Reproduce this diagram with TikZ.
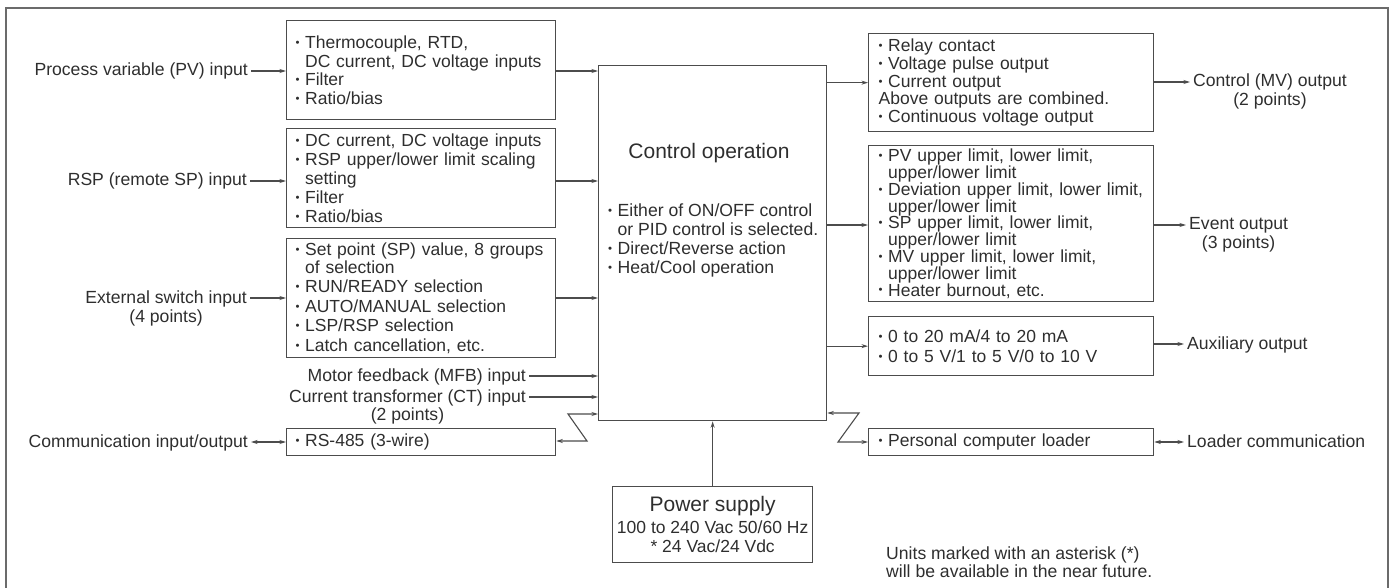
\documentclass[tikz,border=0pt]{standalone}
\usepackage{fontspec}
\setmainfont{Liberation Sans}
\usepackage{graphicx}
\usetikzlibrary{arrows.meta,positioning}
\setlength\parindent{0pt}

% small list bullet and the matching hanging indent
\newcommand\itm{\makebox[9.5pt][l]{\raisebox{0.12em}{\scalebox{0.65}{\textbullet}}}}
\newcommand\ind{\hspace*{9.5pt}}

\begin{document}
\begin{tikzpicture}[x=1pt, y=-1pt,
        every node/.style={text=black!82},
        box/.style={draw=black!70, line width=1.3pt, anchor=north west, align=left, inner xsep=9pt, inner ysep=0pt, font=\fontsize{17.5}{18.7}\selectfont},
        lbl/.style={font=\fontsize{17.6}{18.7}\selectfont, inner xsep=3pt, inner ysep=1.5pt, text height=13pt, text depth=3pt},
        ttl/.style={font=\fontsize{21}{22}\selectfont, inner sep=0pt},
        frame/.style={draw=black!58, line width=1.8pt},
        arr/.style={-{Stealth[length=6.5pt,width=4pt]}, line width=1.1pt, draw=black!70},
        darr/.style={{Stealth[length=6.5pt,width=4pt]}-{Stealth[length=6.5pt,width=4pt]}, line width=1.1pt, draw=black!70}
    ]
    \useasboundingbox (0,0) rectangle (1393,588);
    \draw[frame] (6,592) -- (6,8) -- (1388,8) -- (1388,592);

    % input side
    \node[box, text width=251pt, minimum height=99pt] (pv) at (286,20)
        {\itm Thermocouple, RTD,\\ \ind DC current, DC voltage inputs\\ \itm Filter\\ \itm Ratio/bias};
    \node[box, text width=251pt, minimum height=99pt, font=\fontsize{17.5}{19}\selectfont] (rsp) at (286,128)
        {\itm DC current, DC voltage inputs\\ \itm RSP upper/lower limit scaling\\ \ind setting\\ \itm Filter\\ \itm Ratio/bias};
    \node[box, text width=251pt, minimum height=119pt, font=\fontsize{17.5}{19.4}\selectfont] (ext) at (286,238)
        {\itm Set point (SP) value, 8 groups\\[-1.4pt] \ind of selection\\ \itm RUN/READY selection\\ \itm AUTO/MANUAL selection\\ \itm LSP/RSP selection\\ \itm Latch cancellation, etc.};
    \node[box, text width=251pt, minimum height=27pt] (rs) at (286,428) {\itm RS-485 (3-wire)};

    \node[lbl, anchor=east] (pvin) at (251,71) {Process variable (PV) input};
    \node[lbl, anchor=east] (rspin) at (250,181) {RSP (remote SP) input};
    \node[lbl, anchor=east] (extin) at (250,298) {External switch input};
    \node[lbl, below=0pt of extin] (extpts) {(4 points)};
    \node[lbl, anchor=east] (mfbin) at (529,376) {Motor feedback (MFB) input};
    \node[lbl, anchor=east] (ctin) at (529,397) {Current transformer (CT) input};
    \node[lbl, below=-1pt of ctin] (ctpts) {(2 points)};
    \node[lbl, anchor=east] (comin) at (251,442) {Communication input/output};

    % control block
    \node[box, minimum width=228pt, minimum height=355pt, inner sep=0pt] (ctrl) at (598,65) {};
    \node[ttl] (ctitle) at (709,153) {Control operation};
    \node[anchor=north west, align=left, inner sep=0pt, font=\fontsize{17.6}{19}\selectfont] (clist) at (608,204)
        {\itm Either of ON/OFF control\\ \ind or PID control is selected.\\ \itm Direct/Reverse action\\ \itm Heat/Cool operation};

    \node[box, align=center, inner xsep=2pt, minimum width=200pt, minimum height=76pt] (ps) at (612,486)
        {{\fontsize{21}{22}\selectfont Power supply}\\[3pt] 100 to 240 Vac 50/60 Hz\\ * 24 Vac/24 Vdc};

    % output side
    \node[box, text width=265pt, inner xsep=10pt, minimum height=98pt, font=\fontsize{17.5}{17.8}\selectfont] (mv) at (868,33)
        {\itm Relay contact\\ \itm Voltage pulse output\\ \itm Current output\\ Above outputs are combined.\\ \itm Continuous voltage output};
    \node[box, text width=265pt, inner xsep=10pt, minimum height=156pt, font=\fontsize{17.5}{16.8}\selectfont] (ev) at (868,145)
        {\itm PV upper limit, lower limit,\\ \ind upper/lower limit\\ \itm Deviation upper limit, lower limit,\\ \ind upper/lower limit\\ \itm SP upper limit, lower limit,\\ \ind upper/lower limit\\ \itm MV upper limit, lower limit,\\ \ind upper/lower limit\\ \itm Heater burnout, etc.};
    \node[box, text width=265pt, inner xsep=10pt, minimum height=59pt, font=\fontsize{17.5}{19.4}\selectfont] (aux) at (868,316)
        {\itm 0 to 20 mA/4 to 20 mA\\ \itm 0 to 5 V/1 to 5 V/0 to 10 V};
    \node[box, text width=265pt, inner xsep=10pt, minimum height=27pt] (pcl) at (868,428) {\itm Personal computer loader};

    \node[lbl, anchor=west] (mvout) at (1190,82) {Control (MV) output};
    \node[lbl, below=-1pt of mvout] (mvpts) {(2 points)};
    \node[lbl, anchor=west] (evout) at (1186,225) {Event output};
    \node[lbl, below=-1pt of evout] (evpts) {(3 points)};
    \node[lbl, anchor=west] (auxout) at (1184,344) {Auxiliary output};
    \node[lbl, anchor=west] (ldout) at (1184,442) {Loader communication};

    \node[anchor=north west, align=left, inner sep=0pt, font=\fontsize{17.6}{17.5}\selectfont] (fnote) at (886,547)
        {Units marked with an asterisk (*)\\ will be available in the near future.};

    % bends of the two communication lines
    \coordinate (zl1) at (568,414);
    \coordinate (zl2) at (587,441);
    \coordinate (zr1) at (859,413);
    \coordinate (zr2) at (838,442);

    \draw[arr] (pvin.east) -- (pv.west |- pvin);
    \draw[arr] (rspin.east) -- (rsp.west |- rspin);
    \draw[arr] (extin.east) -- (ext.west |- extin);
    \draw[darr] (comin.east) -- (rs.west |- comin);
    \draw[arr] (pv.east |- pvin) -- (ctrl.west |- pvin);
    \draw[arr] (rsp.east |- rspin) -- (ctrl.west |- rspin);
    \draw[arr] (ext.east |- extin) -- (ctrl.west |- extin);
    \draw[arr] (mfbin.east) -- (ctrl.west |- mfbin);
    \draw[arr] (ctin.east) -- (ctrl.west |- ctin);
    \draw[darr] (ctrl.west |- zl1) -- (zl1) -- (zl2) -- (rs.east |- zl2);

    \draw[arr] (ctrl.east |- mv.west) -- (mv.west);
    \draw[arr] (ctrl.east |- evout) -- (ev.west |- evout);
    \draw[arr] (ctrl.east |- aux.west) -- (aux.west);
    \draw[darr] (ctrl.east |- zr1) -- (zr1) -- (zr2) -- (pcl.west |- zr2);
    \draw[arr] (ps.north) -- (ctrl.south);

    \draw[arr] (mv.east |- mvout) -- (mvout.west);
    \draw[arr] (ev.east |- evout) -- (evout.west);
    \draw[arr] (aux.east |- auxout) -- (auxout.west);
    \draw[darr] (pcl.east |- ldout) -- (ldout.west);
\end{tikzpicture}
\end{document}
